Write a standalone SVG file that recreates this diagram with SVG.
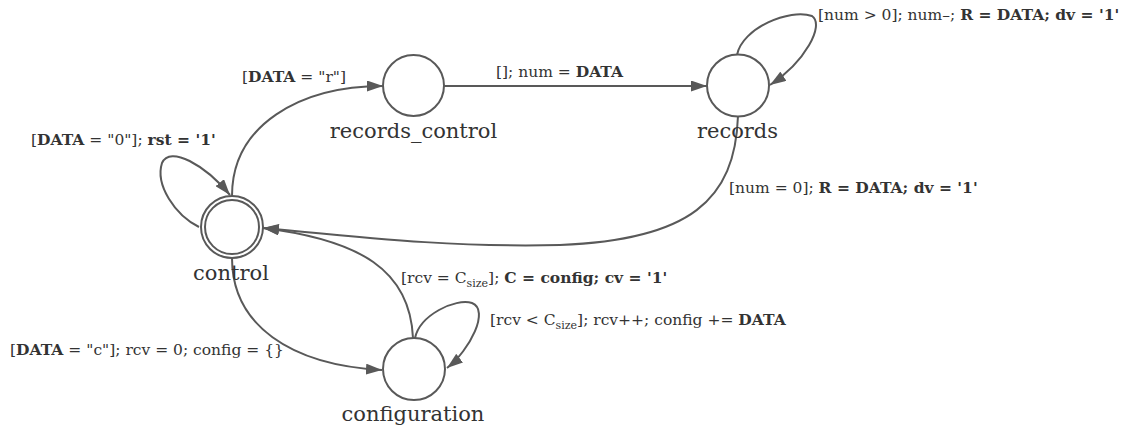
<svg xmlns="http://www.w3.org/2000/svg" width="1127" height="429" viewBox="0 0 1127 429">
  <style>
    .state { fill: #ffffff; stroke: #595959; stroke-width: 2; }
    .edge { fill: none; stroke: #595959; stroke-width: 2; marker-end: url(#arrow); }
    .name { font-family: "DejaVu Serif", "Liberation Serif", serif; font-size: 21px; fill: #333333; text-anchor: middle; }
    .lbl { font-family: "DejaVu Serif", "Liberation Serif", serif; font-size: 15.5px; fill: #333333; }
    .b { font-weight: bold; }
    .sub { font-size: 11px; }
  </style>
  <defs>
    <marker id="arrow" viewBox="0 0 16 11" markerWidth="16" markerHeight="11" refX="16" refY="5.5" orient="auto" markerUnits="userSpaceOnUse">
      <path d="M0,0 L16,5.5 L0,11 z" fill="#595959"/>
    </marker>
  </defs>
  <rect width="1127" height="429" fill="#ffffff"/>

  <!-- transitions -->
  <g id="edges">
    <path class="edge" d="M232,196 C232,125 300,86 383,86"/>
    <path class="edge" d="M199,227 C175,215 155,185 162,163 C170,145 205,165 230,195"/>
    <path class="edge" d="M444,86 L707,86"/>
    <path class="edge" d="M737,55 C742,28 790,8 812,16 C825,25 805,62 770,85"/>
    <path class="edge" d="M738,116 C735,200 690,240 560,245 C450,248 350,236 263,228"/>
    <path class="edge" d="M232,258 C232,325 290,365 382,370"/>
    <path class="edge" d="M413,338 C410,270 360,240 263,228"/>
    <path class="edge" d="M415,338 C420,315 455,298 472,303 C490,310 470,350 447,368"/>

    <text class="lbl" x="242" y="82">[<tspan class="b">DATA</tspan> = "r"]</text>
    <text class="lbl" x="31" y="145">[<tspan class="b">DATA</tspan> = "0"]; <tspan class="b">rst = '1'</tspan></text>
    <text class="lbl" x="496" y="77">[]; num = <tspan class="b">DATA</tspan></text>
    <text class="lbl" x="818" y="20">[num &gt; 0]; num–; <tspan class="b">R = DATA; dv = '1'</tspan></text>
    <text class="lbl" x="729" y="193">[num = 0]; <tspan class="b">R = DATA; dv = '1'</tspan></text>
    <text class="lbl" x="401" y="283">[rcv = C<tspan class="sub" dy="4">size</tspan><tspan dy="-4">]; </tspan><tspan class="b">C = config; cv = '1'</tspan></text>
    <text class="lbl" x="490" y="325">[rcv &lt; C<tspan class="sub" dy="4">size</tspan><tspan dy="-4">]; rcv++; config += </tspan><tspan class="b">DATA</tspan></text>
    <text class="lbl" x="10" y="355">[<tspan class="b">DATA</tspan> = "c"]; rcv = 0; config = {}</text>
  </g>

  <!-- states -->
  <g id="control">
    <circle class="state" cx="232" cy="227" r="31"/>
    <circle class="state" cx="232" cy="227" r="27"/>
    <text class="name" x="231" y="280">control</text>
  </g>
  <g id="records_control">
    <circle class="state" cx="413.5" cy="85.5" r="30.5"/>
    <text class="name" x="413.5" y="138">records_control</text>
  </g>
  <g id="records">
    <circle class="state" cx="738" cy="85.5" r="31"/>
    <text class="name" x="737.5" y="138">records</text>
  </g>
  <g id="configuration">
    <circle class="state" cx="414" cy="369" r="31"/>
    <text class="name" x="413" y="421">configuration</text>
  </g>
</svg>
